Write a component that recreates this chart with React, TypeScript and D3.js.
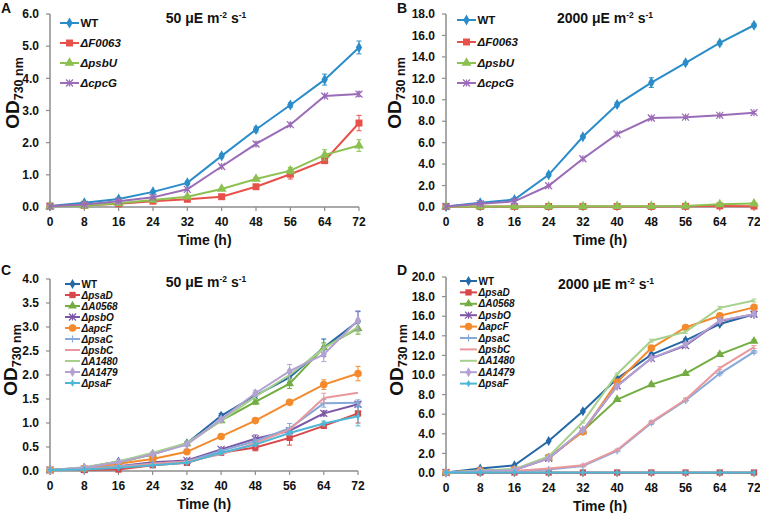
import React from "react";
import * as d3 from "d3";

// ---------- shared ----------
const hours = [0, 8, 16, 24, 32, 40, 48, 56, 64, 72];

// ---------- Panel A (50 µE) ----------
const aWT = [0.03, 0.13, 0.25, 0.47, 0.75, 1.59, 2.41, 3.17, 3.96, 4.96];
const aWTerr = [0, 0.02, 0.03, 0.04, 0.05, 0.06, 0.08, 0.07, 0.17, 0.2];
const aF0063 = [0.03, 0.05, 0.1, 0.18, 0.24, 0.32, 0.63, 1.02, 1.44, 2.61];
const aF0063err = [0, 0, 0.02, 0.03, 0.03, 0.04, 0.06, 0.15, 0.08, 0.24];
const aPsbU = [0.02, 0.04, 0.12, 0.22, 0.32, 0.56, 0.87, 1.13, 1.62, 1.91];
const aPsbUerr = [0, 0, 0.02, 0.02, 0.03, 0.03, 0.05, 0.1, 0.16, 0.18];
const aCpcG = [0.02, 0.08, 0.18, 0.3, 0.55, 1.26, 1.96, 2.56, 3.45, 3.51];
const aCpcGerr = [0, 0, 0.02, 0.02, 0.03, 0.04, 0.06, 0.05, 0.05, 0.07];
const aTicks = [0, 1, 2, 3, 4, 5, 6];

// ---------- Panel B (2000 µE) ----------
const bWT = [0.05, 0.4, 0.7, 3.0, 6.55, 9.55, 11.6, 13.45, 15.3, 16.95];
const bWTerr = [0, 0.05, 0.1, 0.15, 0.15, 0.2, 0.45, 0.15, 0.15, 0.15];
const bF0063 = [0.05, 0.05, 0.05, 0.05, 0.05, 0.05, 0.05, 0.06, 0.1, 0.08];
const bF0063err = [0, 0, 0, 0, 0, 0, 0, 0, 0.1, 0.1];
const bPsbU = [0.05, 0.05, 0.05, 0.06, 0.06, 0.07, 0.08, 0.1, 0.25, 0.32];
const bPsbUerr = [0, 0, 0, 0, 0, 0, 0, 0, 0.1, 0.1];
const bCpcG = [0.05, 0.3, 0.53, 1.98, 4.5, 6.8, 8.3, 8.38, 8.55, 8.8];
const bCpcGerr = [0, 0, 0, 0.05, 0.1, 0.1, 0.15, 0.1, 0.1, 0.1];
const bTicks = [0, 2, 4, 6, 8, 10, 12, 14, 16, 18];

// ---------- Panel C (50 µE) ----------
const cWT = [0.02, 0.07, 0.2, 0.35, 0.58, 1.15, 1.57, 1.95, 2.57, 3.12];
const cWTerr = [0, 0.01, 0.02, 0.03, 0.03, 0.05, 0.06, 0.1, 0.18, 0.2];
const cPsaD = [0.02, 0.02, 0.03, 0.12, 0.17, 0.38, 0.49, 0.69, 0.94, 1.2];
const cPsaDerr = [0, 0, 0, 0.02, 0.02, 0.03, 0.07, 0.15, 0.04, 0.2];
const cA0568 = [0.02, 0.06, 0.17, 0.35, 0.57, 1.05, 1.44, 1.82, 2.57, 2.97];
const cA0568err = [0, 0.01, 0.02, 0.02, 0.03, 0.04, 0.05, 0.1, 0.1, 0.12];
const cPsbO = [0.02, 0.04, 0.1, 0.18, 0.22, 0.45, 0.67, 0.84, 1.2, 1.39];
const cPsbOerr = [0, 0, 0.01, 0.02, 0.02, 0.03, 0.08, 0.05, 0.05, 0.05];
const cApcF = [0.02, 0.05, 0.15, 0.25, 0.4, 0.72, 1.05, 1.43, 1.8, 2.03];
const cApcFerr = [0, 0, 0.01, 0.02, 0.02, 0.03, 0.03, 0.04, 0.1, 0.15];
const cPsaC = [0.02, 0.04, 0.1, 0.15, 0.2, 0.42, 0.62, 0.89, 1.41, 1.42];
const cPsaCerr = [0, 0, 0.01, 0.01, 0.02, 0.03, 0.04, 0.1, 0.08, 0.06];
const cPsbC = [0.02, 0.04, 0.08, 0.15, 0.2, 0.35, 0.58, 0.86, 1.52, 1.63];
const cPsbCerr = [0, 0, 0, 0, 0, 0, 0, 0, 0.1, 0];
const cA1480 = [0.02, 0.08, 0.2, 0.38, 0.58, 1.05, 1.55, 2.0, 2.55, 3.0];
const cA1480err = [0, 0, 0.01, 0.02, 0.02, 0.03, 0.05, 0.1, 0.1, 0.1];
const cA1479 = [0.02, 0.07, 0.18, 0.35, 0.55, 1.08, 1.62, 2.08, 2.43, 3.14];
const cA1479err = [0, 0.01, 0.02, 0.02, 0.03, 0.04, 0.06, 0.14, 0.15, 0.2];
const cPsaF = [0.02, 0.03, 0.07, 0.12, 0.17, 0.38, 0.55, 0.79, 0.99, 1.14];
const cPsaFerr = [0, 0, 0, 0.01, 0.01, 0.02, 0.03, 0.04, 0.05, 0.2];
const cTicks = [0, 0.5, 1, 1.5, 2, 2.5, 3, 3.5, 4];

// ---------- Panel D (2000 µE) ----------
const dWT = [0.05, 0.45, 0.78, 3.27, 6.3, 9.63, 12.08, 13.54, 15.2, 16.2];
const dPsaD = [0.05, 0.05, 0.05, 0.05, 0.05, 0.05, 0.05, 0.05, 0.05, 0.05];
const dA0568 = [0.05, 0.25, 0.35, 1.55, 4.3, 7.5, 9.02, 10.15, 12.1, 13.45];
const dPsbO = [0.05, 0.2, 0.3, 1.5, 4.3, 8.9, 11.7, 13.0, 15.5, 16.2];
const dApcF = [0.05, 0.25, 0.35, 1.6, 4.2, 9.29, 12.75, 14.85, 16.05, 16.9];
const dPsaC = [0.05, 0.1, 0.15, 0.35, 0.72, 2.25, 5.1, 7.4, 10.15, 12.35];
const dPsbC = [0.05, 0.12, 0.2, 0.45, 0.8, 2.35, 5.2, 7.5, 10.7, 12.85];
const dA1480 = [0.05, 0.25, 0.4, 1.7, 5.2, 10.1, 13.5, 14.4, 16.85, 17.6];
const dA1479 = [0.05, 0.2, 0.3, 1.5, 4.4, 8.85, 11.7, 13.1, 15.55, 16.2];
const dPsaF = [0.05, 0.05, 0.05, 0.05, 0.05, 0.05, 0.05, 0.05, 0.05, 0.05];
const dErr = [0, 0, 0, 0.05, 0.1, 0.1, 0.15, 0.15, 0.15, 0.15];
const dTicks = [0, 2, 4, 6, 8, 10, 12, 14, 16, 18, 20];

type Marker = "diamond" | "square" | "triangle" | "star" | "circle" | "plus" | "none" | "dot";
interface Series {
  name: string;
  values: number[];
  err: number[];
  color: string;
  marker: Marker;
}

const FONT = "'Liberation Sans', Arial, sans-serif";
const AXIS = "#8d8d8d";

function markerPath(m: Marker, big: boolean): string | null {
  const k = big ? 1.1 : 0.9;
  switch (m) {
    case "diamond":
      return d3.symbol(d3.symbolDiamond, 32 * k)() as string;
    case "square":
      return d3.symbol(d3.symbolSquare, 44 * k)() as string;
    case "triangle":
      return d3.symbol(d3.symbolTriangle, 38 * k)() as string;
    case "circle":
      return d3.symbol(d3.symbolCircle, 50 * k)() as string;
    case "dot":
      return d3.symbol(d3.symbolDiamond, 16)() as string;
    default:
      return null;
  }
}

function strokeMarker(m: Marker, color: string) {
  const s = 3.5;
  if (m === "star") {
    return (
      <g>
        <line x1={-s} y1={-s} x2={s} y2={s} stroke={color} strokeWidth={1.2} />
        <line x1={-s} y1={s} x2={s} y2={-s} stroke={color} strokeWidth={1.2} />
        <line x1={0} y1={-s} x2={0} y2={s} stroke={color} strokeWidth={1.2} />
      </g>
    );
  }
  if (m === "plus") {
    return (
      <g>
        <line x1={-s} y1={0} x2={s} y2={0} stroke={color} strokeWidth={1.2} />
        <line x1={0} y1={-s} x2={0} y2={s} stroke={color} strokeWidth={1.2} />
      </g>
    );
  }
  return null;
}

function MarkerAt({ m, color, x, y, big }: { m: Marker; color: string; x: number; y: number; big: boolean }) {
  const p = markerPath(m, big);
  if (p) return <path d={p} transform={`translate(${x},${y})`} fill={color} />;
  const s = strokeMarker(m, color);
  if (s) return <g transform={`translate(${x},${y})`}>{s}</g>;
  return null;
}

interface PanelProps {
  letter: string;
  left: number;
  right: number;
  top: number;
  bottom: number;
  yMax: number;
  yTicks: number[];
  series: Series[];
  title: string;
  titleX: number;
  titleY: number;
  legX1: number;
  legX2: number;
  legY: number[];
  legFont: number;
  letterY: number;
  ylabelX: number;
  ylabelY: number;
  big: boolean;
}

function Panel(p: PanelProps) {
  const x = d3.scaleLinear().domain([0, 72]).range([p.left, p.right]);
  const y = d3.scaleLinear().domain([0, p.yMax]).range([p.bottom, p.top]);
  const line = d3
    .line<number>()
    .x((_, i) => x(hours[i]))
    .y((v) => y(v));
  const fmt = d3.format(".1f");
  return (
    <g fontFamily={FONT}>
      <text x={1} y={p.letterY} fontSize={14} fontWeight="bold" fill="#111">
        {p.letter}
      </text>
      {/* axes */}
      <line x1={p.left} x2={p.left} y1={p.top} y2={p.bottom} stroke={AXIS} strokeWidth={1.5} />
      <line x1={p.left} x2={p.right} y1={p.bottom} y2={p.bottom} stroke={AXIS} strokeWidth={1.5} />
      {p.yTicks.map((t) => (
        <g key={"yt" + t}>
          <line x1={p.left - 4} x2={p.left} y1={y(t)} y2={y(t)} stroke={AXIS} strokeWidth={1.2} />
          <text x={p.left - 11} y={y(t) + 4.2} textAnchor="end" fontSize={12} fontWeight="bold" fill="#111">
            {fmt(t)}
          </text>
        </g>
      ))}
      {hours.map((h) => (
        <g key={"xt" + h}>
          <line x1={x(h)} x2={x(h)} y1={p.bottom} y2={p.bottom + 4} stroke={AXIS} strokeWidth={1.2} />
          <text x={x(h)} y={p.bottom + 18.5} textAnchor="middle" fontSize={12} fontWeight="bold" fill="#111">
            {h}
          </text>
        </g>
      ))}
      <text
        x={(p.left + p.right) / 2}
        y={p.bottom + 38}
        textAnchor="middle"
        fontSize={14}
        fontWeight="bold"
        fill="#111"
      >
        Time (h)
      </text>
      <text
        transform={`translate(${p.ylabelX},${p.ylabelY}) rotate(-90)`}
        textAnchor="middle"
        fontWeight="bold"
        fill="#111"
        fontSize={19}
      >
        OD
        <tspan fontSize={12.5} dy={4}>
          730 nm
        </tspan>
      </text>
      {/* title */}
      <text x={p.titleX} y={p.titleY} textAnchor="middle" fontSize={14} fontWeight="bold" fill="#111">
        {p.title} μE m
        <tspan fontSize={8.5} dy={-5.5}>
          -2
        </tspan>
        <tspan dy={5.5}> s</tspan>
        <tspan fontSize={8.5} dy={-5.5}>
          -1
        </tspan>
      </text>
      {/* series */}
      {p.series.map((s) => (
        <g key={s.name}>
          {s.err.map((e, i) =>
            e > 0 ? (
              <g key={i} stroke={s.color} strokeWidth={1}>
                <line x1={x(hours[i])} x2={x(hours[i])} y1={y(s.values[i] - e)} y2={y(s.values[i] + e)} />
                <line x1={x(hours[i]) - 2.5} x2={x(hours[i]) + 2.5} y1={y(s.values[i] + e)} y2={y(s.values[i] + e)} />
                <line x1={x(hours[i]) - 2.5} x2={x(hours[i]) + 2.5} y1={y(s.values[i] - e)} y2={y(s.values[i] - e)} />
              </g>
            ) : null
          )}
          <path d={line(s.values) as string} fill="none" stroke={s.color} strokeWidth={2} />
          {s.values.map((v, i) => (
            <MarkerAt key={i} m={s.marker} color={s.color} x={x(hours[i])} y={y(v)} big={p.big} />
          ))}
        </g>
      ))}
      {/* legend */}
      {p.series.map((s, i) => (
        <g key={"lg" + s.name}>
          <line x1={p.legX1} x2={p.legX2} y1={p.legY[i]} y2={p.legY[i]} stroke={s.color} strokeWidth={2} />
          <MarkerAt m={s.marker} color={s.color} x={(p.legX1 + p.legX2) / 2} y={p.legY[i]} big={p.big} />
          <text
            x={p.legX2 + 1.5}
            y={p.legY[i] + p.legFont * 0.36}
            fontSize={p.legFont}
            fontWeight="bold"
            fontStyle={s.name === "WT" ? "normal" : "italic"}
            fill="#111"
          >
            {s.name}
          </text>
        </g>
      ))}
    </g>
  );
}

const C_WT = "#2a8cc8";
const C_RED = "#e8504a";
const C_GREEN = "#8cc152";
const C_PURPLE = "#9b6cb8";

const seriesA: Series[] = [
  { name: "WT", values: aWT, err: aWTerr, color: C_WT, marker: "diamond" },
  { name: "ΔF0063", values: aF0063, err: aF0063err, color: C_RED, marker: "square" },
  { name: "ΔpsbU", values: aPsbU, err: aPsbUerr, color: C_GREEN, marker: "triangle" },
  { name: "ΔcpcG", values: aCpcG, err: aCpcGerr, color: C_PURPLE, marker: "star" },
];
const seriesB: Series[] = [
  { name: "WT", values: bWT, err: bWTerr, color: C_WT, marker: "diamond" },
  { name: "ΔF0063", values: bF0063, err: bF0063err, color: C_RED, marker: "square" },
  { name: "ΔpsbU", values: bPsbU, err: bPsbUerr, color: C_GREEN, marker: "triangle" },
  { name: "ΔcpcG", values: bCpcG, err: bCpcGerr, color: C_PURPLE, marker: "star" },
];

const K = {
  wt: "#2468a8",
  psaD: "#d8474a",
  a0568: "#73ad42",
  psbO: "#7c56a6",
  apcF: "#f58a2c",
  psaC: "#86a9d9",
  psbC: "#e9989d",
  a1480: "#a6d08c",
  a1479: "#b3a1d3",
  psaF: "#4db8d6",
};

const seriesC: Series[] = [
  { name: "WT", values: cWT, err: cWTerr, color: K.wt, marker: "diamond" },
  { name: "ΔpsaD", values: cPsaD, err: cPsaDerr, color: K.psaD, marker: "square" },
  { name: "ΔA0568", values: cA0568, err: cA0568err, color: K.a0568, marker: "triangle" },
  { name: "ΔpsbO", values: cPsbO, err: cPsbOerr, color: K.psbO, marker: "star" },
  { name: "ΔapcF", values: cApcF, err: cApcFerr, color: K.apcF, marker: "circle" },
  { name: "ΔpsaC", values: cPsaC, err: cPsaCerr, color: K.psaC, marker: "plus" },
  { name: "ΔpsbC", values: cPsbC, err: cPsbCerr, color: K.psbC, marker: "none" },
  { name: "ΔA1480", values: cA1480, err: cA1480err, color: K.a1480, marker: "none" },
  { name: "ΔA1479", values: cA1479, err: cA1479err, color: K.a1479, marker: "diamond" },
  { name: "ΔpsaF", values: cPsaF, err: cPsaFerr, color: K.psaF, marker: "dot" },
];
const seriesD: Series[] = [
  { name: "WT", values: dWT, err: dErr, color: K.wt, marker: "diamond" },
  { name: "ΔpsaD", values: dPsaD, err: hours.map(() => 0), color: K.psaD, marker: "square" },
  { name: "ΔA0568", values: dA0568, err: dErr, color: K.a0568, marker: "triangle" },
  { name: "ΔpsbO", values: dPsbO, err: dErr, color: K.psbO, marker: "star" },
  { name: "ΔapcF", values: dApcF, err: dErr, color: K.apcF, marker: "circle" },
  { name: "ΔpsaC", values: dPsaC, err: dErr, color: K.psaC, marker: "plus" },
  { name: "ΔpsbC", values: dPsbC, err: dErr, color: K.psbC, marker: "none" },
  { name: "ΔA1480", values: dA1480, err: dErr, color: K.a1480, marker: "none" },
  { name: "ΔA1479", values: dA1479, err: dErr, color: K.a1479, marker: "diamond" },
  { name: "ΔpsaF", values: dPsaF, err: hours.map(() => 0), color: K.psaF, marker: "dot" },
];

export default function App() {
  const legC = d3.range(10).map((i) => 284 + i * 11);
  const legD = d3.range(10).map((i) => 281 + i * 11.4);
  return (
    <svg
      width={760}
      height={513}
      style={{ position: "absolute", left: 0, top: 0, background: "#fff" }}
    >
      <rect width={760} height={513} fill="#fff" />
      <Panel
        letter="A"
        left={50}
        right={359}
        top={14}
        bottom={207}
        yMax={6}
        yTicks={aTicks}
        series={seriesA}
        title="50"
        titleX={206}
        titleY={23}
        legX1={60}
        legX2={79}
        legY={[23, 43, 63, 83]}
        legFont={11.5}
        letterY={13}
        ylabelX={19}
        ylabelY={93}
        big={true}
      />
      <g transform="translate(396,0)">
        <Panel
          letter="B"
          left={50}
          right={358}
          top={14}
          bottom={207}
          yMax={18}
          yTicks={bTicks}
          series={seriesB}
          title="2000"
          titleX={209}
          titleY={23}
          legX1={61}
          legX2={80}
          legY={[20, 42, 63, 83]}
          legFont={11.5}
          letterY={13}
          ylabelX={5}
          ylabelY={93}
          big={true}
        />
      </g>
      <Panel
        letter="C"
        left={50}
        right={358}
        top={279}
        bottom={471}
        yMax={4}
        yTicks={cTicks}
        series={seriesC}
        title="50"
        titleX={206}
        titleY={287}
        legX1={65}
        legX2={80}
        legY={legC}
        legFont={10}
        letterY={275}
        ylabelX={17}
        ylabelY={360}
        big={false}
      />
      <g transform="translate(396,0)">
        <Panel
          letter="D"
          left={50}
          right={358}
          top={277}
          bottom={473}
          yMax={20}
          yTicks={dTicks}
          series={seriesD}
          title="2000"
          titleX={210}
          titleY={289}
          legX1={64}
          legX2={81}
          legY={legD}
          legFont={10}
          letterY={275}
          ylabelX={7}
          ylabelY={360}
          big={false}
        />
      </g>
    </svg>
  );
}
